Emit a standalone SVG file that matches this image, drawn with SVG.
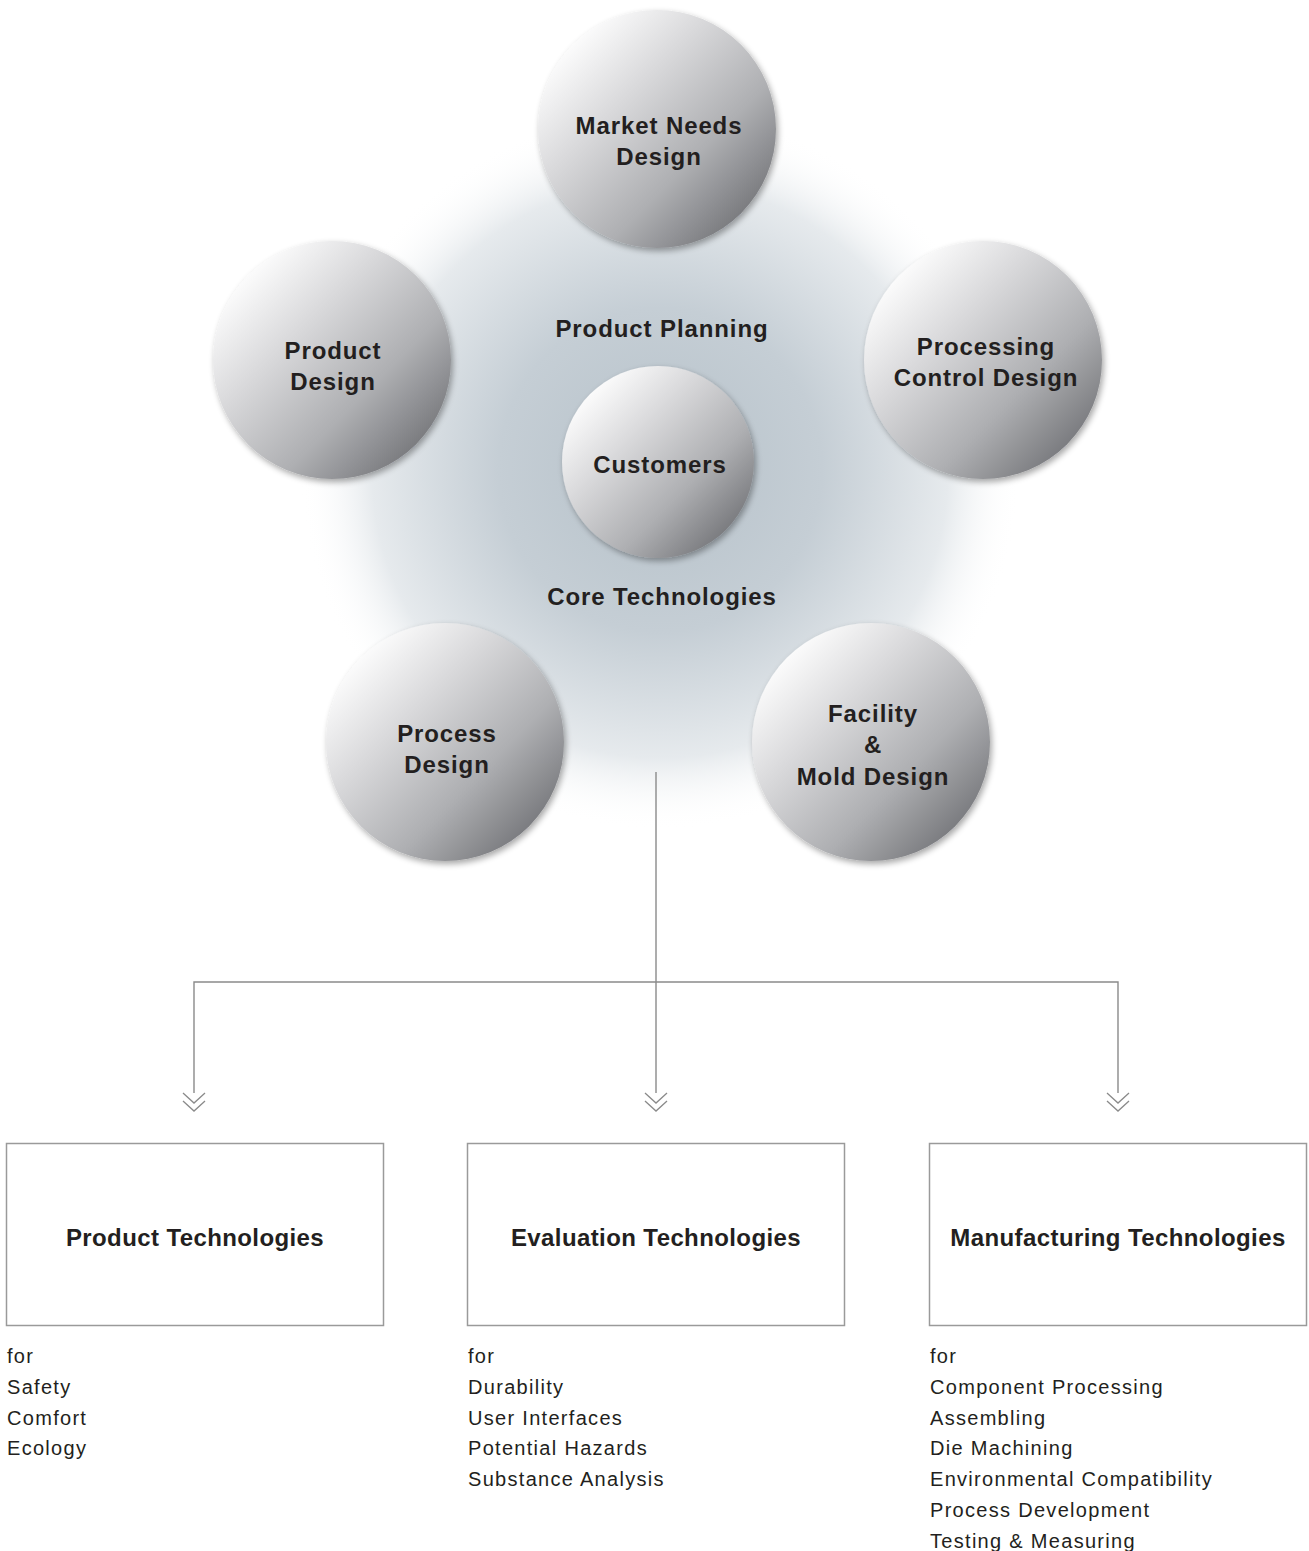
<svg xmlns="http://www.w3.org/2000/svg" width="1309" height="1551" viewBox="0 0 1309 1551">
<defs>
<radialGradient id="halo" cx="660" cy="470" r="360" gradientUnits="userSpaceOnUse">
<stop offset="0" stop-color="#b6c1c9"/>
<stop offset="0.45" stop-color="#c5ced5"/>
<stop offset="0.8" stop-color="#e6eaed"/>
<stop offset="1" stop-color="#ffffff" stop-opacity="0"/>
</radialGradient>
<linearGradient id="sph" x1="0.12" y1="0.12" x2="0.92" y2="0.92">
<stop offset="0" stop-color="#ffffff"/>
<stop offset="0.3" stop-color="#dadadc"/>
<stop offset="0.65" stop-color="#aeafb2"/>
<stop offset="1" stop-color="#6c6d71"/>
</linearGradient>
<filter id="sh" x="-20%" y="-20%" width="140%" height="140%">
<feGaussianBlur in="SourceAlpha" stdDeviation="3"/>
<feOffset dx="2" dy="3" result="b"/>
<feComponentTransfer><feFuncA type="linear" slope="0.35"/></feComponentTransfer>
<feMerge><feMergeNode/><feMergeNode in="SourceGraphic"/></feMerge>
</filter>
<marker id="chev" viewBox="0 0 24 22" refX="12" refY="2" markerWidth="24" markerHeight="22" markerUnits="userSpaceOnUse" orient="0">
<path d="M1,1 L12,11 L23,1 M1,9 L12,19 L23,9" fill="none" stroke="#8a8a8a" stroke-width="1.3"/>
</marker>
</defs>
<style>
.sphere{fill:url(#sph);filter:url(#sh)}
.lbl{font-family:"Liberation Sans",Arial,sans-serif;font-weight:bold;font-size:24px;fill:#231f20;text-anchor:middle;letter-spacing:0.9px}
.ttl{font-family:"Liberation Sans",Arial,sans-serif;font-weight:bold;font-size:24px;fill:#231f20;text-anchor:middle;letter-spacing:0.4px}
.lst{font-family:"Liberation Sans",Arial,sans-serif;font-size:20px;fill:#231f20;letter-spacing:1.3px}
.box{fill:#ffffff;stroke:#9a9a9a;stroke-width:1.5}
.conn{fill:none;stroke:#8a8a8a;stroke-width:1.4}
</style>
<rect width="1309" height="1551" fill="#ffffff"/>
<circle cx="660" cy="470" r="360" fill="url(#halo)"/>
<g id="connectors">
<path class="conn" d="M656,772 V1093"/>
<path class="conn" d="M194,1093 V982 H1118 V1093"/>
<path d="M656,1093 v1" fill="none" stroke="none" marker-end="url(#chev)"/>
<path d="M194,1093 v1" fill="none" stroke="none" marker-end="url(#chev)"/>
<path d="M1118,1093 v1" fill="none" stroke="none" marker-end="url(#chev)"/>
</g>
<g id="market-needs-design">
<circle class="sphere" cx="657" cy="129" r="119"/>
<text class="lbl" x="659" y="134">Market Needs</text>
<text class="lbl" x="659" y="165">Design</text>
</g>
<g id="product-design">
<circle class="sphere" cx="332" cy="360" r="119"/>
<text class="lbl" x="333" y="359">Product</text>
<text class="lbl" x="333" y="390">Design</text>
</g>
<g id="processing-control-design">
<circle class="sphere" cx="983" cy="360" r="119"/>
<text class="lbl" x="986" y="355">Processing</text>
<text class="lbl" x="986" y="386">Control Design</text>
</g>
<g id="product-planning">
<text class="lbl" x="662" y="337">Product Planning</text>
</g>
<g id="customers">
<circle class="sphere" cx="658" cy="462" r="96"/>
<text class="lbl" x="660" y="473">Customers</text>
</g>
<g id="core-technologies">
<text class="lbl" x="662" y="605">Core Technologies</text>
</g>
<g id="process-design">
<circle class="sphere" cx="445" cy="742" r="119"/>
<text class="lbl" x="447" y="742">Process</text>
<text class="lbl" x="447" y="773">Design</text>
</g>
<g id="facility-mold-design">
<circle class="sphere" cx="871" cy="742" r="119"/>
<text class="lbl" x="873" y="722">Facility</text>
<text class="lbl" x="873" y="753">&amp;</text>
<text class="lbl" x="873" y="785">Mold Design</text>
</g>
<g id="product-technologies">
<rect class="box" x="6.5" y="1143.5" width="377" height="182"/>
<text class="ttl" x="195" y="1246">Product Technologies</text>
<text class="lst" x="7" y="1363">for</text>
<text class="lst" x="7" y="1394">Safety</text>
<text class="lst" x="7" y="1425">Comfort</text>
<text class="lst" x="7" y="1455">Ecology</text>
</g>
<g id="evaluation-technologies">
<rect class="box" x="467.5" y="1143.5" width="377" height="182"/>
<text class="ttl" x="656" y="1246">Evaluation Technologies</text>
<text class="lst" x="468" y="1363">for</text>
<text class="lst" x="468" y="1394">Durability</text>
<text class="lst" x="468" y="1425">User Interfaces</text>
<text class="lst" x="468" y="1455">Potential Hazards</text>
<text class="lst" x="468" y="1486">Substance Analysis</text>
</g>
<g id="manufacturing-technologies">
<rect class="box" x="929.5" y="1143.5" width="377" height="182"/>
<text class="ttl" x="1118" y="1246">Manufacturing Technologies</text>
<text class="lst" x="930" y="1363">for</text>
<text class="lst" x="930" y="1394">Component Processing</text>
<text class="lst" x="930" y="1425">Assembling</text>
<text class="lst" x="930" y="1455">Die Machining</text>
<text class="lst" x="930" y="1486">Environmental Compatibility</text>
<text class="lst" x="930" y="1517">Process Development</text>
<text class="lst" x="930" y="1548">Testing &amp; Measuring</text>
</g>
</svg>
